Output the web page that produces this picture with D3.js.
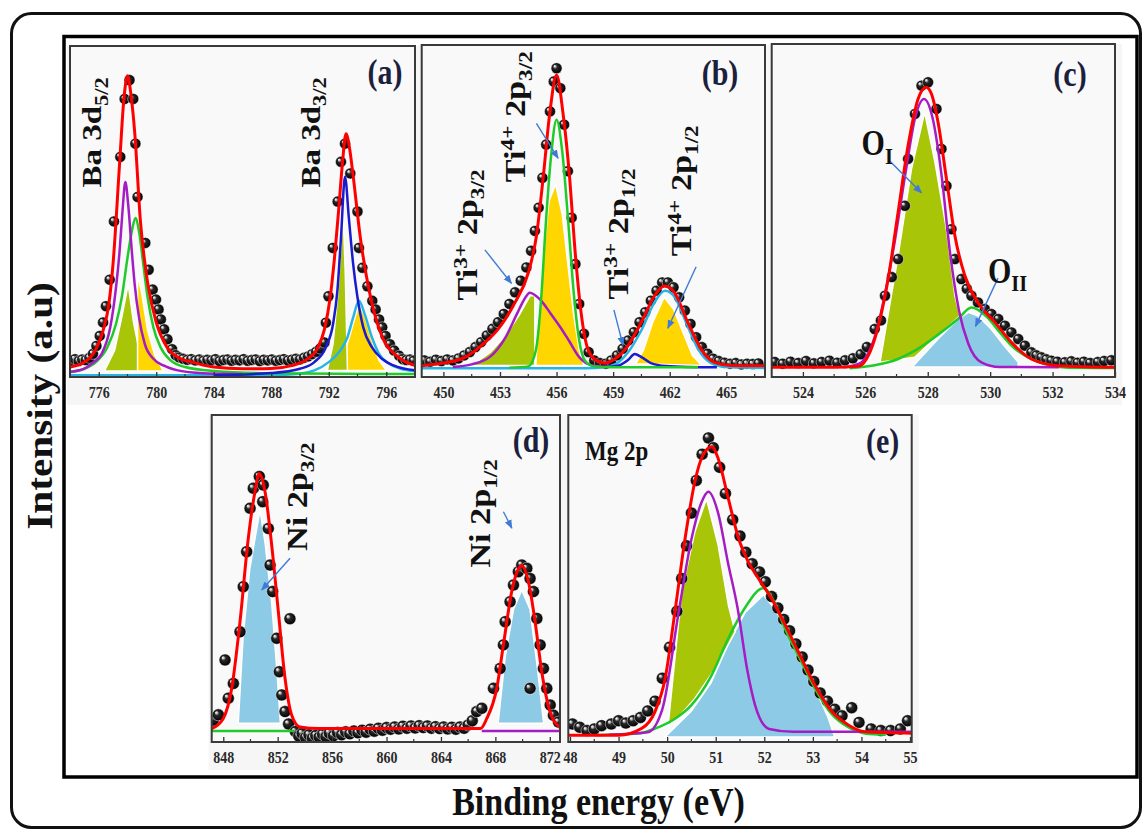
<!DOCTYPE html>
<html>
<head>
<meta charset="utf-8">
<script src="https://cdn.jsdelivr.net/npm/d3@7"></script>
<style>
  body { margin: 0; background: #fff; }
  svg text { font-family: "Liberation Serif", "Times New Roman", serif; }
</style>
</head>
<body>
<div id="canvas"></div>
<script>
// values: [binding energy (eV), intensity (a.u., 0-100 in each panel)]

// ---- (a) Ba 3d
const aTicks = [776, 780, 784, 788, 792, 796];
const aMinor = [778, 782, 786, 790, 794];
const aPoints = [
  [774.1,5.0],[774.35,5.4],[774.6,4.8],[774.85,5.3],[775.1,5.1],[775.35,5.8],
  [775.6,7.0],[775.84,9.4],[776.07,12.4],[776.3,16.5],[776.5,21.4],[776.76,29.4],[777.06,47],[777.5,66.5],
  [777.8,84],[778.14,89.7],[778.4,84],[778.55,70.5],[778.7,54.4],[779.24,40.5],[779.47,32.4],[779.75,26.4],
  [779.98,23.4],[780.16,20.4],[780.32,17.4],[780.55,14.4],[780.78,11.4],[781.1,8.4],[781.35,6.6],
  [781.6,5.9],[781.88,5.5],[782.16,5.2],[782.44,5.4],[782.72,5.0],[783.0,5.3],[783.28,4.9],[783.56,5.2],
  [783.84,5.0],[784.12,5.4],[784.4,4.8],[784.68,5.1],[784.96,5.3],[785.24,4.9],[785.52,5.2],[785.8,5.0],
  [786.08,5.4],[786.36,4.9],[786.64,5.1],[786.92,5.3],[787.2,4.8],[787.48,5.2],[787.76,5.0],[788.04,5.3],
  [788.32,4.9],[788.6,5.1],[788.88,5.4],[789.16,5.0],[789.44,5.2],[789.72,5.5],[790.0,5.3],[790.28,5.8],
  [790.56,6.2],[790.84,6.9],[791.12,7.6],[791.4,8.6],
  [791.7,10.4],[791.8,16.4],[791.98,24.4],[792.28,39],[792.62,53],[792.85,65],[793.13,70.5],[793.5,61.5],
  [794.0,50],[794.1,39],[794.34,33],[794.69,27.4],[795.03,23],[795.26,20.4],[795.5,17.4],[795.72,15],
  [795.95,12.4],[796.25,9.9],[796.55,8],[796.9,6.4],[797.15,5.4],[797.4,5.1],[797.65,5.3],[797.9,4.9]
];
const aFit = [
  [774.0,3.0],[775.0,4.5],[775.6,6.9],[776.3,14],[776.7,22],[777.0,34.5],[777.45,64.5],[777.75,84],[778.0,91],
  [778.25,85],[778.5,74],[778.9,47],[779.4,28.5],[780.0,16.5],[780.7,9.3],[781.5,6],[782.5,4.5],[784,3],
  [786,2.5],[788,2.6],[789.5,3.5],[790.5,5.4],[791.2,8.5],[791.7,14.4],[792.1,24],[792.4,36],[792.7,51],
  [792.95,64.5],[793.2,73.5],[793.45,69],[793.65,62.5],[794.2,42],[794.9,24.3],[795.7,12.3],[796.75,6.3],[798,3.5]
];
const aPurple = [
  [774,1.5],[775,2.5],[775.5,4],[776.2,7],[776.8,15],[777.2,27],[777.45,38],[777.65,50],[777.85,58.9],
  [778.05,52],[778.3,38],[778.5,28],[778.8,18],[779.2,10],[779.8,5.5],[780.5,3.5],[781.5,2],[783,1.2],[786,0.8]
];
const aGreen = [
  [774,1.5],[775,2.5],[775.8,4.5],[776.6,9],[777.2,16],[777.6,24],[778.0,36],[778.3,44],[778.55,48],
  [778.8,44],[779.1,34],[779.4,24],[779.8,15],[780.3,9],[781,5],[782,3],[784,1.8],[788,1.1],[798,0.9]
];
const aBlue = [
  [784,0.5],[788,1.2],[790,2.5],[791,4.5],[791.8,9],[792.3,16],[792.6,26],[792.85,42],[793.13,60.5],
  [793.4,48],[793.7,34],[794.0,24],[794.4,15],[795,9],[795.7,5.5],[796.5,3.5],[798,2]
];
const aCyan = [
  [774,0.5],[788,0.6],[790,1],[791,2],[792,4.5],[792.8,8],[793.3,12],[793.7,18],[794.1,23],
  [794.5,19],[795,12],[795.5,7],[796.2,4],[797,2.5],[798,1.8]
];
const aOliveL = [[776.4,1.8],[777.1,8],[777.6,18],[778.05,28],[778.4,17],[778.9,6],[779.4,1.8]];
const aYellowL = [[778.7,1.8],[778.7,31],[779.0,25],[779.4,14],[779.9,6.5],[780.5,1.8]];
const aOliveR = [[791.9,2],[792.3,10],[792.65,26],[793.0,50],[793.15,31],[793.25,12],[793.3,2]];
const aYellowR = [[792.2,2],[793.0,6],[793.5,13],[793.9,19],[794.1,22],[794.5,18.5],[795.0,11],[795.5,5],[796.0,2]];

// ---- (b) Ti 2p
const bTicks = [450, 453, 456, 459, 462, 465];
const bMinor = [451.5, 454.5, 457.5, 460.5, 463.5, 466.5];
const bPoints = [
  [449.0,5],[449.3,4.6],[449.6,5.2],[449.9,4.8],[450.2,5.3],[450.5,5],[450.8,5.6],[451.1,6.5],[451.4,7.5],
  [451.7,9],[452.0,10.5],[452.3,12.5],[452.6,14.5],[452.9,16.5],[453.2,19],[453.5,22],[453.8,25.5],[454.1,29],
  [454.4,33],[454.65,38],[454.85,44],[455.05,51],[455.25,60],[455.45,70],[455.65,80],[455.85,89],[456.0,93],
  [456.2,87],[456.4,76],[456.6,62],[456.8,48],[457.0,34],[457.2,22],[457.45,13],[457.7,7.5],[458.0,5],
  [458.3,4.2],[458.6,4],[458.9,5],[459.2,6.5],[459.5,8.5],[459.8,11],[460.1,13.5],[460.4,16.5],[460.7,19.5],
  [461.0,23],[461.3,26],[461.6,28.5],[461.9,28.5],[462.2,27],[462.5,24],[462.8,20],[463.1,16],[463.4,12],
  [463.7,9],[464.0,7],[464.3,5.5],[464.6,4.8],[464.9,4.3],[465.2,4],[465.5,4.2],[465.8,3.8],[466.1,4],
  [466.4,3.9],[466.7,4.1]
];
const bFit = [
  [448.85,3.4],[450,4.2],[451.14,5.9],[452.0,9.4],[452.9,14.4],[453.79,22.4],[454.5,31.4],[454.93,42.4],
  [455.28,59.5],[455.64,79.5],[456.0,91],[456.34,79.5],[456.7,59.5],[456.96,39.4],[457.3,19.4],[457.66,8.4],
  [458.1,5],[458.6,4.2],[459.08,5.4],[459.78,9.4],[460.49,16.4],[461.19,24.4],[461.72,27.4],[462.25,25.4],
  [462.96,16.4],[463.66,8.4],[464.37,4.4],[465.2,3.5],[467.05,3.4]
];
const bPurple = [
  [450.5,3.0],[451.5,3.8],[452.5,6.2],[453.3,12],[453.9,19],[454.3,23.5],[454.58,25.4],[455.1,23.5],
  [455.7,19],[456.2,15],[456.65,11],[457.2,6],[457.9,3.5],[458.8,3.0]
];
const bGreen = [
  [453.5,2.8],[454.5,3.2],[454.9,8],[455.2,25],[455.41,44.4],[455.7,66],[456.0,77.5],[456.3,68],
  [456.65,44.4],[456.9,26],[457.2,11],[457.5,5],[458.0,3.2],[459,2.9],[463.5,2.9]
];
const bBlue = [[458.6,3.0],[459.3,3.5],[459.8,5.2],[460.14,6.9],[460.5,6.0],[461.0,4.2],[461.8,3.3],[463,3.0],[464.5,2.9]];
const bCyan = [
  [448.85,2.6],[457.5,2.6],[458.6,3.0],[459.3,4.5],[459.8,7.5],[460.49,14],[461.19,22.5],[461.75,26],
  [462.25,24.2],[462.9,16],[463.5,8.5],[464.2,4.2],[465,3.0],[467.05,2.7]
];
const bOlive = [[451.5,3.5],[452.5,7.5],[453.3,12.5],[454.0,18.5],[454.6,24.5],[454.85,24.5],[454.85,3.5]];
const bYellow1 = [[454.9,3.5],[455.0,15],[455.3,36],[455.6,53],[455.95,58],[456.3,49],[456.6,34],[456.9,19],[457.2,8],[457.45,3.5]];
const bYellow2 = [[460.2,4],[460.6,8],[461.1,16.5],[461.7,24],[462.2,20.5],[462.7,13.5],[463.2,6.5],[463.7,3.5]];

// ---- (c) O 1s
const cTicks = [524, 526, 528, 530, 532, 534];
const cMinor = [525, 527, 529, 531, 533];
const cPoints = [
  [523.1,4.5],[523.35,4.0],[523.6,4.6],[523.85,4.2],[524.1,4.8],[524.35,4.1],[524.6,4.5],[524.85,4.9],
  [525.1,4.3],[525.35,5.0],[525.6,5.6],[525.85,6.8],[526.05,9],[526.3,14.4],[526.5,17],[526.63,24.4],
  [526.85,30],[527.05,35.4],[527.27,51.4],[527.37,65.5],[527.59,79],[527.8,87.5],[528.01,88.5],[528.28,80.5],
  [528.44,68.5],[528.6,57.4],[528.76,44.4],[528.87,35.4],[529.08,29.4],[529.25,26.5],[529.4,24.4],[529.61,22.4],
  [529.83,20.4],[530.04,18.9],[530.26,17.4],[530.47,15.4],[530.68,13.4],[530.9,11.4],[531.11,9.4],[531.32,7.4],
  [531.48,6.5],[531.64,5.9],[531.8,5.3],[531.96,4.9],[532.15,4.6],[532.39,4.4],[532.6,4.7],[532.8,4.3],
  [533.0,4.6],[533.2,4.2],[533.45,4.5],[533.65,4.8],[533.88,5.0]
];
const cFit = [
  [523,2.9],[525,2.9],[525.77,3.2],[526.3,11.4],[526.73,29.4],[527.05,49.5],[527.37,69.5],[527.69,83.5],
  [527.95,87],[528.12,85],[528.33,76.5],[528.6,59.5],[528.87,42.4],[529.19,30.4],[529.61,22.4],[530.15,16.4],
  [530.68,10.4],[531.32,5.4],[532.17,3.4],[534,2.9]
];
const cPurple = [
  [525.3,2.9],[525.8,4],[526.3,12],[526.9,38.4],[527.3,62],[527.6,78],[527.88,83.5],[528.15,78],[528.45,60],
  [528.7,38.4],[529.0,20],[529.3,10],[529.72,4.4],[530.3,3],[532.2,2.9]
];
const cGreen = [
  [525.5,2.6],[526.3,3.5],[527.05,5.4],[527.6,8],[528.3,12.5],[528.97,17.4],[529.4,20.9],[529.9,18],
  [530.3,13.5],[530.68,9.4],[531.3,5.5],[531.9,3.6],[532.5,2.8],[534,2.7]
];
const cOlive = [
  [526.47,4.4],[527.05,36.4],[527.48,62.5],[527.9,79.5],[528.23,64.5],[528.6,44.4],[528.87,24.4],
  [529.03,18.4],[528.33,12.4],[527.58,5.9]
];
const cBlueFill = [
  [527.5,3],[528.33,11.4],[528.97,17.4],[529.3,19.4],[529.6,18.4],[530.03,14.4],[530.45,9.4],[530.9,4.4],[530.9,3]
];

// ---- (d) Ni 2p
const dTicks = [848, 852, 856, 860, 864, 868, 872];
const dMinor = [850, 854, 858, 862, 866, 870];
const dPoints = [
  [847.27,6.7],[847.64,8.3],[848.13,25.1],[848.37,13.4],[848.74,17.9],[849.23,33.7],[849.47,47.5],[849.72,58.2],
  [849.97,71.5],[850.21,77.6],[850.65,81.2],[850.94,78.6],[850.9,73.5],[851.31,65.3],[851.44,54.1],[851.63,46],
  [851.93,31.7],[852.12,21.5],[852.3,14.4],[852.54,9.3],[852.9,37.7],[852.8,5.5],
  [853.3,3.2],[853.55,1.8],[853.8,2.6],[854.05,1.4],[854.3,2.2],[854.55,1.2],[854.8,2.0],[855.05,1.5],
  [855.3,2.4],[855.55,1.6],[855.8,2.7],[856.1,1.9],[856.4,2.9],[856.7,2.2],[857.0,3.1],[857.3,2.5],
  [857.6,3.4],[857.9,2.8],[858.2,3.6],[858.5,3.0],[858.8,3.9],[859.1,3.3],[859.4,4.2],[859.7,3.6],
  [860.0,4.4],[860.3,3.9],[860.6,4.6],[860.9,4.0],[861.2,4.8],[861.5,4.2],[861.8,4.9],[862.1,4.3],
  [862.4,5.0],[862.7,4.4],[863.0,4.9],[863.3,4.2],[863.6,4.7],[863.9,4.1],[864.2,4.6],[864.5,4.0],
  [864.8,4.5],[865.1,3.9],[865.4,4.6],[865.7,4.2],[866.0,5.2],[866.3,6.5],
  [866.63,9.3],[867.0,10.3],[867.86,16.4],[868.35,22.5],[868.59,29.7],[868.72,36.8],[869.08,42.9],[869.33,48],
  [869.69,52.1],[869.94,54.1],[870.31,53.1],[870.55,50],[870.8,46],[871.05,37.8],[871.29,29.7],[871.53,22.5],
  [871.78,16.4],[872.03,11.3],[872.27,8.2],[872.64,6.1],[870.55,16.4]
];
const dFit = [
  [847.15,4.1],[848.0,7.2],[848.62,16.4],[849.23,36.8],[849.84,62.3],[850.33,76.5],[850.65,82.1],[851.07,76.5],
  [851.56,60.2],[852.05,39.8],[852.54,19.5],[853.03,8.2],[853.64,4.6],[855,4.1],[860,4.1],[866.9,4.1],
  [867.37,7.2],[868.1,16.4],[868.59,29.7],[869.2,46],[869.7,53],[869.94,54],[870.43,49],[870.92,36.8],
  [871.41,21.5],[872.02,9.2],[872.75,4.4]
];
const dGreen = [[847.15,3.4],[853.2,3.4]];
const dPurple = [[867.0,3.4],[872.75,3.4]];
const dBlueL = [[849.1,5.7],[849.45,31.7],[849.95,53],[850.45,65],[850.7,71],[851.07,61],[851.56,42.5],[851.95,21.5],[852.2,5.7]];
const dBlueR = [[868.2,5.7],[868.72,26],[869.33,40.5],[869.94,46.5],[870.55,40.5],[871.05,24],[871.55,5.7]];

// ---- (e) Mg 2p
const eTicks = [48, 49, 50, 51, 52, 53, 54, 55];
const eMinor = [48.5, 49.5, 50.5, 51.5, 52.5, 53.5, 54.5];
const ePoints = [
  [48.05,5.5],[48.2,4.5],[48.35,3.5],[48.5,4],[48.65,5],[48.85,5.5],[49.0,6.5],[49.15,5.8],[49.3,6.5],
  [49.45,7.5],[49.6,9.5],[49.75,12.5],[49.9,19.5],[50.05,29],[50.2,40],[50.3,50],[50.4,60],[50.5,70],
  [50.6,80],[50.72,88],[50.85,93],[50.95,90],[51.08,84],[51.2,76],[51.35,68],[51.5,63],[51.62,58],
  [51.75,54.5],[51.9,52],[52.02,49],[52.15,44.5],[52.28,41],[52.4,37.5],[52.52,34],[52.65,30],[52.78,26],
  [52.9,22],[53.02,18.5],[53.15,15],[53.3,12.5],[53.45,10],[53.6,8],[53.8,10.5],[53.95,6],[54.2,4],
  [54.4,3.5],[54.6,3.5],[54.8,4],[54.95,6.5]
];
const eFit = [
  [47.96,2.1],[49.0,2.1],[49.48,4.2],[49.75,9.3],[49.96,19.5],[50.16,39.8],[50.37,62.3],[50.57,79.6],
  [50.74,87.8],[50.92,90.3],[51.05,86.7],[51.26,74.4],[51.47,62.3],[51.67,55.1],[51.88,50],[52.15,43.9],
  [52.43,35.8],[52.7,27.6],[53.04,17.4],[53.39,9.3],[53.73,5.2],[54.07,3.1],[55.04,2.7]
];
const ePurple = [
  [48.8,2.2],[49.6,3],[49.9,10],[50.24,40],[50.5,62],[50.7,73],[50.85,76.5],[51.05,70],[51.25,55],
  [51.45,41],[51.65,22],[51.81,11.3],[52.1,4],[52.6,3.1],[55.04,3.1]
];
const eGreen = [
  [48.5,2.1],[49.4,2.6],[49.75,4.1],[50.2,7.5],[50.5,11.3],[50.9,20],[51.26,31.7],[51.6,41],[51.98,47],
  [52.2,43],[52.43,34.5],[52.7,26.5],[53.04,16.5],[53.39,8.5],[53.73,4.5],[54.07,2.6],[54.5,2.2]
];
const eOlive = [
  [50.02,5],[50.3,46],[50.57,64.2],[50.81,74.4],[51.05,60.2],[51.26,41.9],[51.4,33.7],[50.99,22.5],[50.57,13.3],[50.2,7]
];
const eBlueFill = [
  [49.95,1.5],[50.5,9.5],[50.9,18],[51.26,30],[51.6,39.5],[51.98,45],[52.2,41],[52.5,33.7],[52.9,21.4],[53.32,7.2],[53.45,1.5]
];

// ---- colours
const RED = "#ff0000", PURPLE = "#a51cc4", GREEN = "#1fca2a", BLUE = "#1a1ad0", CYAN = "#25b5e5";
const OLIVE = "#a9c508", YELLOW = "#ffd600", LIGHTBLUE = "#8dcae5", ARROW = "#3f7bd6";
const SY = 1.18; // the figure is stretched vertically

const W = 1142, H = 831;
const svg = d3.select("#canvas").append("svg")
  .attr("width", W).attr("height", H).style("display", "block");
svg.append("rect").attr("width", W).attr("height", H).attr("fill", "#fff");

const defs = svg.append("defs");
const ball = defs.append("radialGradient").attr("id", "ball")
  .attr("cx", "50%").attr("cy", "50%").attr("r", "50%").attr("fx", "30%").attr("fy", "28%");
ball.append("stop").attr("offset", "0%").attr("stop-color", "#ffffff");
ball.append("stop").attr("offset", "16%").attr("stop-color", "#c8c8c8");
ball.append("stop").attr("offset", "38%").attr("stop-color", "#2a2a2a");
ball.append("stop").attr("offset", "100%").attr("stop-color", "#000");
defs.append("marker").attr("id", "arrow").attr("viewBox", "0 0 10 10")
  .attr("refX", 9).attr("refY", 5).attr("markerUnits", "userSpaceOnUse")
  .attr("markerWidth", 9).attr("markerHeight", 9).attr("orient", "auto")
  .append("path").attr("d", "M0,1 L10,5 L0,9 Z").attr("fill", ARROW);

// outer frames
svg.append("rect").attr("x", 11.5).attr("y", 13.5).attr("width", 1129).attr("height", 814)
  .attr("rx", 20).attr("fill", "none").attr("stroke", "#111").attr("stroke-width", 3);
svg.append("rect").attr("x", 64).attr("y", 36.5).attr("width", 1073).attr("height", 740.5)
  .attr("fill", "none").attr("stroke", "#000").attr("stroke-width", 3.5);

function addText(g, px, py, lab) {
  const t = g.append("text")
    .attr("transform", `translate(${px},${py}) scale(1,${SY})` + (lab.rot ? " rotate(-90)" : ""))
    .attr("text-anchor", lab.anchor || (lab.rot ? "middle" : "start"))
    .attr("font-size", lab.size).attr("font-weight", "bold").attr("fill", lab.color || "#111");
  let shift = 0;
  lab.parts.forEach(([s, k]) => {
    const want = k === "sub" ? 0.24 * lab.size : k === "sup" ? -0.36 * lab.size : 0;
    t.append("tspan").attr("dy", want - shift)
      .attr("font-size", k ? lab.size * 0.68 : lab.size).text(s);
    shift = want;
  });
}

function drawPanel(p) {
  const [x0, y0, x1, y1] = p.box;
  const x = d3.scaleLinear().domain(p.domain).range([x0, x1]);
  const y = d3.scaleLinear().domain([0, 100]).range([y1, y0]);
  const g = svg.append("g");

  g.append("rect").attr("x", x0 - 3).attr("y", y0).attr("width", x1 - x0 + 10).attr("height", y1 - y0 + 28)
    .attr("fill", "#f6f6f6");
  g.append("rect").attr("x", x0).attr("y", y0).attr("width", x1 - x0).attr("height", y1 - y0)
    .attr("fill", "#f9f9f9");
  defs.append("clipPath").attr("id", "clip-" + p.id)
    .append("rect").attr("x", x0).attr("y", y0).attr("width", x1 - x0).attr("height", y1 - y0);
  const plot = g.append("g").attr("clip-path", `url(#clip-${p.id})`);

  const poly = d3.line().x(d => x(d[0])).y(d => y(d[1])).curve(d3.curveLinearClosed);
  p.fills.forEach(f => {
    plot.append("path").attr("d", poly(f.data)).attr("fill", f.color)
      .attr("stroke", "#fff").attr("stroke-width", 1.5).attr("stroke-linejoin", "round");
  });

  plot.selectAll("circle.pt").data(p.points).join("circle").attr("class", "pt")
    .attr("cx", d => x(d[0])).attr("cy", d => y(d[1])).attr("r", p.r)
    .attr("fill", "url(#ball)").attr("stroke", "#fff").attr("stroke-width", 0.5);

  const line = d3.line().x(d => x(d[0])).y(d => y(d[1])).curve(d3.curveMonotoneX);
  p.lines.forEach(l => {
    plot.append("path").attr("d", line(l.data)).attr("fill", "none")
      .attr("stroke", l.color).attr("stroke-width", 2.5);
  });
  plot.append("path").attr("d", line(p.fit)).attr("fill", "none")
    .attr("stroke", RED).attr("stroke-width", 3);

  const ax = g.append("g").attr("transform", `translate(0,${y1})`)
    .call(d3.axisBottom(x).tickValues(p.ticks).tickFormat(d3.format("d"))
      .tickSizeInner(-5).tickSizeOuter(0));
  ax.select(".domain").remove();
  ax.selectAll(".tick line").attr("stroke", "#333").attr("stroke-width", 1.3);
  ax.selectAll("text").attr("y", 8).attr("transform", `scale(1,${SY})`)
    .attr("font-family", "'Liberation Sans', Arial, sans-serif").attr("font-weight", "bold")
    .attr("font-size", 14).attr("fill", "#2a2a2a");
  g.selectAll("line.minor").data(p.minor).join("line").attr("class", "minor")
    .attr("x1", d => x(d)).attr("x2", d => x(d)).attr("y1", y1).attr("y2", y1 - 3)
    .attr("stroke", "#333").attr("stroke-width", 1.2);

  g.append("rect").attr("x", x0).attr("y", y0).attr("width", x1 - x0).attr("height", y1 - y0)
    .attr("fill", "none").attr("stroke", "#3a3a3a").attr("stroke-width", 2);

  p.arrows.forEach(a => {
    g.append("line").attr("x1", x(a[0][0])).attr("y1", y(a[0][1]))
      .attr("x2", x(a[1][0])).attr("y2", y(a[1][1]))
      .attr("stroke", ARROW).attr("stroke-width", 1.4).attr("marker-end", "url(#arrow)");
  });
  p.labels.forEach(l => addText(g, x(l.at[0]), y(l.at[1]), l));
  addText(g, x1 - p.tag[0], y0 + p.tag[1],
    { size: 30, anchor: "middle", color: "#1c1f3e", parts: [[p.tag[2]]] });
}

const panels = [
  {
    id: "a", box: [70, 46, 415, 377], domain: [774, 798], ticks: aTicks, minor: aMinor, r: 5.5,
    points: aPoints, fit: aFit,
    fills: [{ data: aOliveL, color: OLIVE }, { data: aYellowL, color: YELLOW },
            { data: aYellowR, color: YELLOW }, { data: aOliveR, color: OLIVE }],
    lines: [{ data: aCyan, color: CYAN }, { data: aGreen, color: GREEN },
            { data: aPurple, color: PURPLE }, { data: aBlue, color: BLUE }],
    labels: [
      { at: [776.19, 73.9], rot: true, size: 28, parts: [["Ba 3d"], ["5/2", "sub"]] },
      { at: [791.37, 73.9], rot: true, size: 28, parts: [["Ba 3d"], ["3/2", "sub"]] }
    ],
    arrows: [], tag: [30, 38, "(a)"]
  },
  {
    id: "b", box: [421.7, 45, 765, 377], domain: [448.85, 467.05], ticks: bTicks, minor: bMinor, r: 5.5,
    points: bPoints, fit: bFit,
    fills: [{ data: bOlive, color: OLIVE }, { data: bYellow1, color: YELLOW }, { data: bYellow2, color: YELLOW }],
    lines: [{ data: bCyan, color: CYAN }, { data: bBlue, color: BLUE },
            { data: bPurple, color: PURPLE }, { data: bGreen, color: GREEN }],
    labels: [
      { at: [451.78, 42.8], rot: true, size: 29, parts: [["Ti"], ["3+", "sup"], [" 2p"], ["3/2", "sub"]] },
      { at: [454.32, 78.4], rot: true, size: 29, parts: [["Ti"], ["4+", "sup"], [" 2p"], ["3/2", "sub"]] },
      { at: [459.78, 43.1], rot: true, size: 29, parts: [["Ti"], ["3+", "sup"], [" 2p"], ["1/2", "sub"]] },
      { at: [463.14, 56.1], rot: true, size: 29, parts: [["Ti"], ["4+", "sup"], [" 2p"], ["1/2", "sub"]] }
    ],
    arrows: [
      [[452.2, 38.3], [453.61, 28.2]], [[454.93, 76.4], [456.08, 65.9]],
      [[459.04, 20.2], [459.52, 9.6]], [[463.4, 33.2], [461.9, 14.7]]
    ],
    tag: [45, 40, "(b)"]
  },
  {
    id: "c", box: [771.7, 44, 1115, 377], domain: [523, 534], ticks: cTicks, minor: cMinor, r: 5.5,
    points: cPoints, fit: cFit,
    fills: [{ data: cBlueFill, color: LIGHTBLUE }, { data: cOlive, color: OLIVE }],
    lines: [{ data: cGreen, color: GREEN }, { data: cPurple, color: PURPLE }],
    labels: [
      { at: [525.88, 66.6], size: 30, parts: [["O"], ["I", "sub"]] },
      { at: [529.93, 28.3], size: 30, parts: [["O"], ["II", "sub"]] }
    ],
    arrows: [[[526.79, 64.8], [527.8, 55.3]], [[530.25, 29.7], [529.53, 15.2]]],
    tag: [45, 42, "(c)"]
  },
  {
    id: "d", box: [211.7, 415, 560, 742], domain: [847.15, 872.75], ticks: dTicks, minor: dMinor, r: 6,
    points: dPoints, fit: dFit,
    fills: [{ data: dBlueL, color: LIGHTBLUE }, { data: dBlueR, color: LIGHTBLUE }],
    lines: [{ data: dGreen, color: GREEN }, { data: dPurple, color: PURPLE }],
    labels: [
      { at: [854.14, 75], rot: true, size: 29, parts: [["Ni 2p"], ["3/2", "sub"]] },
      { at: [867.61, 69.9], rot: true, size: 29, parts: [["Ni 2p"], ["1/2", "sub"]] }
    ],
    arrows: [[[852.91, 56.2], [850.83, 46.5]], [[868.59, 70.4], [869.21, 65.4]]],
    tag: [29, 37, "(d)"]
  },
  {
    id: "e", box: [568.3, 415, 911.7, 742], domain: [47.965, 55.035], ticks: eTicks, minor: eMinor, r: 6,
    points: ePoints, fit: eFit,
    fills: [{ data: eBlueFill, color: LIGHTBLUE }, { data: eOlive, color: OLIVE }],
    lines: [{ data: eGreen, color: GREEN }, { data: ePurple, color: PURPLE }],
    labels: [{ at: [48.31, 86.2], size: 23, parts: [["Mg 2p"]] }],
    arrows: [], tag: [29, 38, "(e)"]
  }
];
panels.forEach(drawPanel);

// axis titles
addText(svg, 598.5, 815, { size: 34, anchor: "middle", parts: [["Binding energy (eV)"]] });
addText(svg, 52, 406, { size: 35, rot: true, parts: [["Intensity (a.u)"]] });
</script>
</body>
</html>
